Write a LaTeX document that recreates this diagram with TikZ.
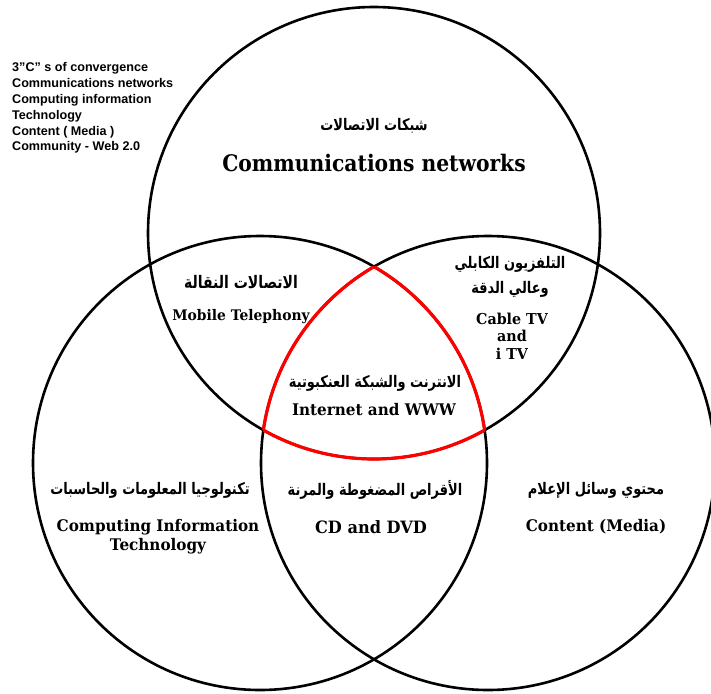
\documentclass[tikz,border=0pt]{standalone}
\usepackage{fontspec}
\TeXXeTstate=1
\newfontfamily\arabicfont[Script=Arabic,FakeStretch=0.81]{DejaVu Sans}
\newfontfamily\serifb[FakeStretch=0.95]{DejaVu Serif}
\newfontfamily\serifbig[FakeStretch=0.89]{DejaVu Serif}
\newfontfamily\sansb{Liberation Sans}
\begin{document}
\begin{tikzpicture}[x=1pt,y=-1pt,
  circ/.style={line width=2.6pt,black},
  redl/.style={line width=3.2pt,red},
  ar/.style={font=\arabicfont\bfseries\fontsize{16}{25}\selectfont,inner sep=0pt,align=center},
  en/.style={font=\serifb\bfseries\fontsize{16}{17.5}\selectfont,inner sep=0pt,align=center},
  big/.style={font=\serifbig\bfseries\fontsize{22.8}{24}\selectfont,inner sep=0pt}]
\useasboundingbox (0,0) rectangle (711,693);
\coordinate (ct) at (374,233);
\coordinate (cl) at (260,463);
\coordinate (cr) at (488,463);
\draw[circ] (ct) circle[radius=226];
\draw[circ] (cl) circle[radius=227];
\draw[circ] (cr) circle[radius=227];
\begin{scope}
  \clip (ct) circle[radius=226]; \clip (cl) circle[radius=227];
  \draw[redl] (cr) circle[radius=227];
\end{scope}
\begin{scope}
  \clip (ct) circle[radius=226]; \clip (cr) circle[radius=227];
  \draw[redl] (cl) circle[radius=227];
\end{scope}
\begin{scope}
  \clip (cl) circle[radius=227]; \clip (cr) circle[radius=227];
  \draw[redl] (ct) circle[radius=226];
\end{scope}
\node[anchor=north west,inner sep=0pt,align=left,font=\sansb\bfseries\fontsize{12.6}{15.8}\selectfont] (legend) at (12,62.5)
  {3”C” s of convergence\\Communications networks\\Computing information\\Technology\\Content ( Media )\\Community - Web 2.0};
\node[ar] (topar) at (374,126) {\beginR شبكات الاتصالات\endR};
\node[big] (topen) at (374,163) {Communications networks};
\node[ar,font=\arabicfont\bfseries\fontsize{17.3}{25}\selectfont] (mobar) at (241,282) {\beginR الاتصالات النقالة\endR};
\node[en,font=\serifb\bfseries\fontsize{14.6}{17.5}\selectfont] (moben) at (241,317) {Mobile Telephony};
\node[ar] (cabar) at (510,277) {\beginR التلفزيون الكابلي\endR\\\beginR وعالي الدقة\endR};
\node[en,font=\serifb\bfseries\fontsize{15}{17.5}\selectfont] (caben) at (512,336) {Cable TV\\and\\i TV};
\node[ar] (intar) at (375,383) {\beginR الانترنت والشبكة العنكبوتية\endR};
\node[en] (inten) at (374,410) {Internet and WWW};
\node[ar] (compar) at (150,490) {\beginR تكنولوجيا المعلومات والحاسبات\endR};
\node[en,font=\serifb\bfseries\fontsize{16}{19}\selectfont] (compen) at (158,537) {Computing Information\\Technology};
\node[ar] (cdar) at (375,490) {\beginR الأقراص المضغوطة والمرنة\endR};
\node[en,font=\serifb\bfseries\fontsize{17}{19}\selectfont] (cden) at (371,527) {CD and DVD};
\node[ar] (conar) at (596,490) {\beginR محتوي وسائل الإعلام\endR};
\node[en] (conen) at (596,527) {Content (Media)};
\end{tikzpicture}
\end{document}
